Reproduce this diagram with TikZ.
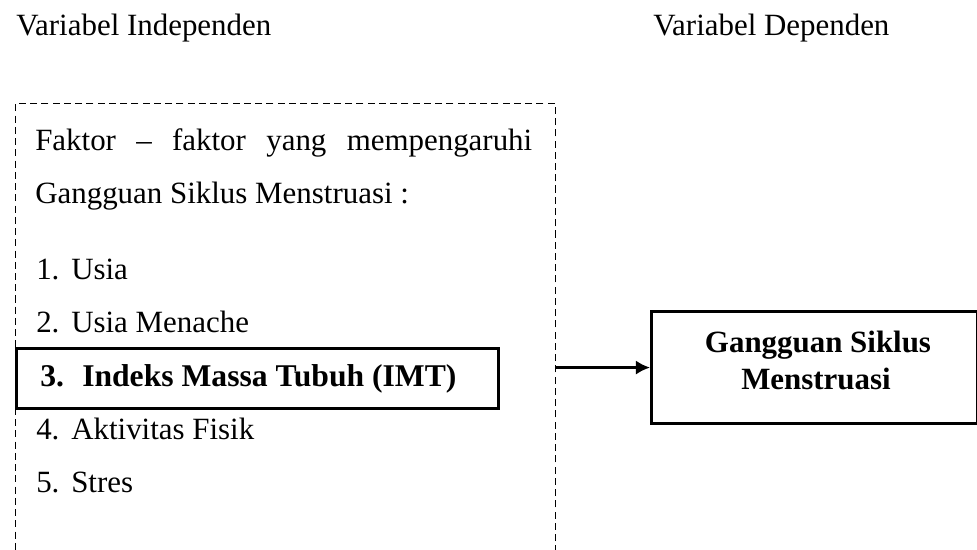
\documentclass[tikz,border=0pt]{standalone}
\usepackage{fontspec}
\setmainfont{Liberation Serif}
\usetikzlibrary{arrows.meta}

\tikzset{
	txt/.style={anchor=base west, inner sep=0pt, font=\fontsize{22}{26}\selectfont},
	boldbox/.style={draw, line width=2.2pt},
}
\newcommand{\num}[2][0.875cm]{\makebox[#1][l]{#2}}

\begin{document}
\begin{tikzpicture}
	\useasboundingbox (0,0) rectangle (24.425,-13.725);
	% headings
	\node[txt] (indep) at (0.4,-0.875) {Variabel Independen};
	\node[txt] (dep) at (16.325,-0.875) {Variabel Dependen};
	
	% boxes
	\node[draw, dashed, line width=0.7pt, dash pattern=on 5pt off 3pt, anchor=north west,
	minimum width=13.5cm, minimum height=11.5cm, inner sep=0pt] (faktor) at (0.375,-2.575) {};
	\node[boldbox, anchor=north west, minimum width=12.05cm, minimum height=1.5cm, inner sep=0pt] (imt) at (0.375,-8.675) {};
	\node[boldbox, anchor=north west, minimum width=8.15cm, minimum height=2.8cm, inner sep=0pt] (gsm) at (16.25,-7.75) {};
	
	% texts
	\node[txt] (line1) at (0.875,-3.75) {\makebox[12.425cm][s]{Faktor – faktor yang mempengaruhi}};
	\node[txt] (line2) at (0.875,-5.075) {Gangguan Siklus Menstruasi :};
	\node[txt] (usia) at (0.9,-6.975) {\num{1.}Usia};
	\node[txt] (menache) at (0.9,-8.3) {\num{2.}Usia Menache};
	\node[txt, font=\fontsize{22.5}{26}\selectfont\bfseries] (imttext) at (1.0,-9.65) {\num[1.05cm]{3.}Indeks Massa Tubuh (IMT)};
	\node[txt] (fisik) at (0.9,-10.975) {\num{4.}Aktivitas Fisik};
	\node[txt] (stres) at (0.9,-12.3) {\num{5.}Stres};
	\node[txt, anchor=base, font=\fontsize{22}{26}\selectfont\bfseries] (gsm1) at (20.45,-8.8) {Gangguan Siklus};
	\node[txt, anchor=base, font=\fontsize{22}{26}\selectfont\bfseries] (gsm2) at (20.4,-9.725) {Menstruasi};
	
	% arrows
	\draw[-{Latex[length=10pt,width=10pt]}, line width=1.6pt] (faktor.east |- gsm.west) -- (gsm.west);
\end{tikzpicture}
\end{document}
